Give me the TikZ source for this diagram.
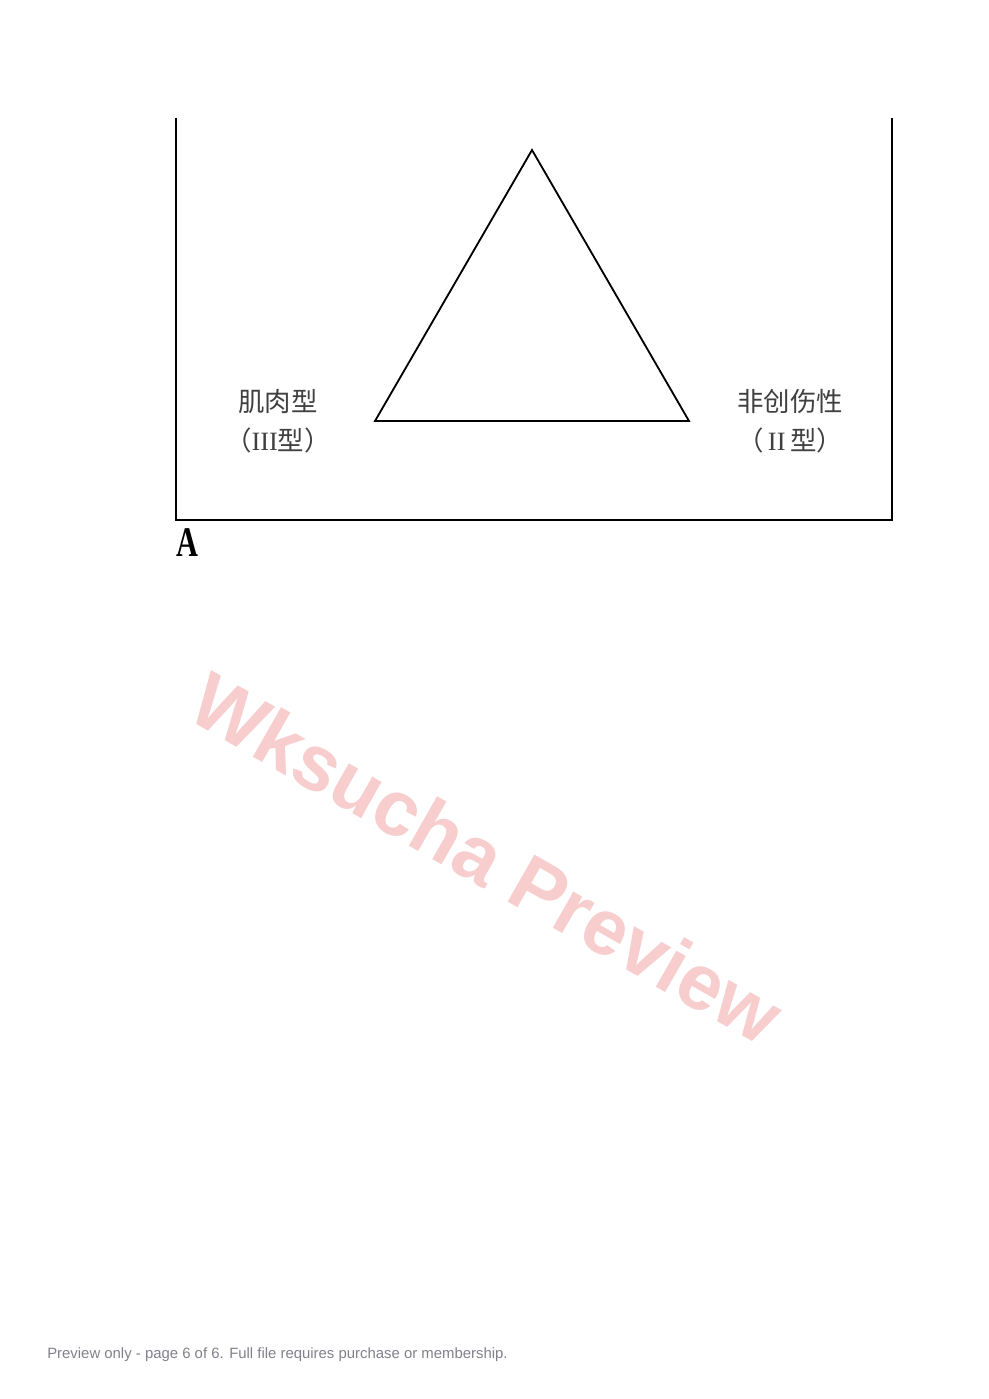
\documentclass[tikz,border=0pt]{standalone}
\usepackage{fontspec}
\setmainfont{Liberation Serif}
\newfontfamily\cjk{Noto Sans CJK SC}
\newfontfamily\footfont{Liberation Sans}
\usetikzlibrary{positioning}
\definecolor{wmpink}{RGB}{247,205,205}
\definecolor{footgray}{RGB}{128,128,138}
\tikzstyle{frame} = [black, line width=1.4pt]
\tikzstyle{tri} = [black, line width=1.3pt, line join=miter]
\tikzstyle{typelabel} = [align=center, inner sep=0pt, text=black!75,
  font=\fontsize{18.8pt}{27.6pt}\selectfont]

\begin{document}
\begin{tikzpicture}[x=0.025cm, y=-0.025cm]
  \useasboundingbox (0,0) rectangle (988,1399);
  % open box
  \coordinate (tl) at (176,118);
  \coordinate (bl) at (176,520);
  \coordinate (br) at (892,520);
  \coordinate (tr) at (892,118);
  \draw[frame] (tl) -- (bl) -- (br) -- (tr);

  % triangle
  \coordinate (apex) at (532,150);
  \coordinate (left) at (375,421);
  \coordinate (right) at (689,421);
  \draw[tri] (apex) -- (left) -- (right) -- cycle;

  % labels
  \node[typelabel] (muscle) at (278,421) {{\cjk 肌肉型}\\{\cjk （}III{\cjk 型）}};
  \node[typelabel] (nontrauma) at (790,421) {{\cjk 非创伤性}\\{\cjk （}\,II\,{\cjk 型）}};

  \node[font=\fontsize{30pt}{30pt}\selectfont\bfseries, xscale=0.72, inner sep=0pt] (panel) at (187,543) {A};

  % watermark
  \node[wmpink, rotate=-29.7, font=\footfont\fontsize{56pt}{56pt}\selectfont\bfseries] (wm) at (487,858) {Wksucha Preview};

  % footer
  \node[footgray, anchor=base west, inner sep=0pt, font=\footfont\fontsize{10.6pt}{12pt}\selectfont] (foot) at (47,1358) {Preview only - page 6 of 6. Full file requires purchase or membership.};
\end{tikzpicture}
\end{document}
